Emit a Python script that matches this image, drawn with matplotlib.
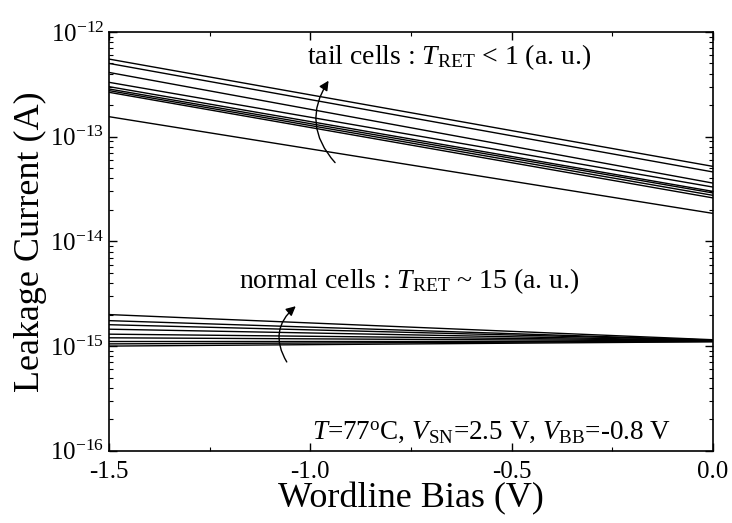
import matplotlib
matplotlib.use("Agg")
import matplotlib.pyplot as plt
import numpy as np
from matplotlib.ticker import FixedLocator, FuncFormatter, NullFormatter

plt.rcParams['font.family'] = ['Liberation Serif', 'DejaVu Serif']
plt.rcParams['mathtext.fontset'] = 'custom'
plt.rcParams['mathtext.rm'] = 'Liberation Serif'
plt.rcParams['mathtext.it'] = 'Liberation Serif:italic'
plt.rcParams['axes.unicode_minus'] = False

# Data: each cell's leakage at the two ends of the wordline-bias sweep
bias = [-1.5, 0.0]
tail_start = [5.5e-13, 5.0e-13, 4.1e-13, 3.3e-13, 3.0e-13, 2.85e-13, 2.75e-13, 2.65e-13, 1.55e-13]
tail_end = [5.2e-14, 4.6e-14, 3.6e-14, 3.3e-14, 3.0e-14, 2.9e-14, 2.75e-14, 2.6e-14, 1.85e-14]
normal_start = [2.0e-15, 1.75e-15, 1.6e-15, 1.45e-15, 1.3e-15, 1.2e-15, 1.12e-15, 1.05e-15, 1.0e-15]
normal_end = [1.15e-15, 1.14e-15, 1.14e-15, 1.13e-15, 1.13e-15, 1.12e-15, 1.12e-15, 1.11e-15, 1.1e-15]
xticks = [-1.5, -1.0, -0.5, 0.0]
xtick_labels = ["-1.5", "-1.0", "-0.5", "0.0"]
yticks = [1e-16, 1e-15, 1e-14, 1e-13, 1e-12]
ytick_labels = [r"$10^{\mathrm{-16}}$", r"$10^{\mathrm{-15}}$", r"$10^{\mathrm{-14}}$",
                r"$10^{\mathrm{-13}}$", r"$10^{\mathrm{-12}}$"]

fig = plt.figure(figsize=(7.32, 5.23), dpi=100)
ax = fig.add_axes([0.149, 0.138, 0.825, 0.801])

for s, e in zip(tail_start, tail_end):
    ax.plot(bias, [s, e], color='black', lw=1.0)
for s, e in zip(normal_start, normal_end):
    ax.plot(bias, [s, e], color='black', lw=1.0)

ax.set_yscale('log')
ax.set_xlim(-1.5, 0.0)
ax.set_ylim(1e-16, 1e-12)
ax.set_xticks(xticks)
ax.set_xticklabels(xtick_labels)
ax.xaxis.set_minor_locator(FixedLocator([-1.25, -0.75, -0.25]))
ax.yaxis.set_major_locator(FixedLocator(yticks))
ax.set_yticklabels(ytick_labels)
minor_y = [m * 10.0 ** d for d in range(-16, -12) for m in range(2, 10)]
ax.yaxis.set_minor_locator(FixedLocator(minor_y))
ax.yaxis.set_minor_formatter(NullFormatter())

ax.tick_params(which='both', direction='in', top=True, right=True, labelsize=18)
ax.tick_params(which='major', length=6, width=1)
ax.tick_params(which='minor', length=3, width=0.8)
ax.tick_params(axis='x', pad=7)
for sp in ax.spines.values():
    sp.set_linewidth(1.2)

ax.set_xlabel("Wordline Bias (V)", fontsize=26, labelpad=0)
ax.set_ylabel("Leakage Current (A)", fontsize=26, labelpad=2)

ax.text(-1.008, 5.8e-13, r"tail cells : $T_{\mathrm{RET}}$ < 1 (a. u.)", fontsize=20, va='center', ha='left')
ax.text(-1.178, 4.2e-15, r"normal cells : $T_{\mathrm{RET}}$ ~ 15 (a. u.)", fontsize=20, va='center', ha='left')
ax.text(-0.997, 1.5e-16, r"$T$=77$^{\mathrm{o}}$C, $V_{\mathrm{SN}}$=2.5 V, $V_{\mathrm{BB}}$=-0.8 V", fontsize=19.5, va='center', ha='left')

ax.annotate("", xy=(-0.951, 3.6e-13), xytext=(-0.934, 5.4e-14),
            arrowprops=dict(arrowstyle='-|>', color='black', lw=1.0, mutation_scale=14,
                            connectionstyle='arc3,rad=-0.4'))
ax.annotate("", xy=(-1.031, 2.5e-15), xytext=(-1.055, 6.7e-16),
            arrowprops=dict(arrowstyle='-|>', color='black', lw=1.0, mutation_scale=14,
                            connectionstyle='arc3,rad=-0.45'))

fig.savefig("out.png", dpi=100)
